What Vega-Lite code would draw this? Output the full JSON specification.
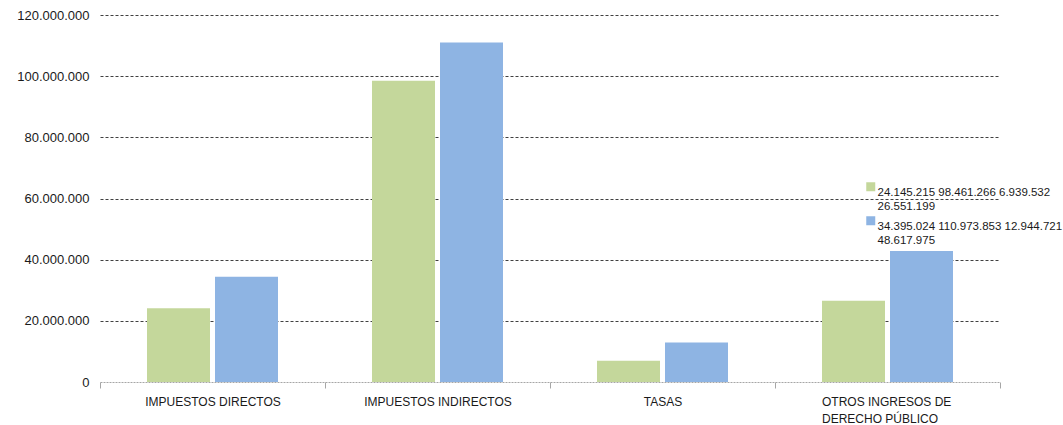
{
  "$schema": "https://vega.github.io/schema/vega-lite/v6.json",
  "width": 900,
  "height": 367,
  "autosize": {"type": "none"},
  "padding": {"left": 100, "top": 15, "right": 63, "bottom": 43},
  "background": "white",
  "config": {
    "view": {"stroke": null},
    "font": "Liberation Sans",
    "locale": {"number": {"decimal": ",", "thousands": ".", "grouping": [3], "currency": ["", " €"]}},
    "style": {"guide-label": {"lineHeight": 14}}
  },
  "data": {
    "values": [
      {"categoria": "IMPUESTOS DIRECTOS", "serie": "24.145.215 98.461.266 6.939.532 26.551.199", "valor": 24145215},
      {"categoria": "IMPUESTOS DIRECTOS", "serie": "34.395.024 110.973.853 12.944.721 48.617.975", "valor": 34395024},
      {"categoria": "IMPUESTOS INDIRECTOS", "serie": "24.145.215 98.461.266 6.939.532 26.551.199", "valor": 98461266},
      {"categoria": "IMPUESTOS INDIRECTOS", "serie": "34.395.024 110.973.853 12.944.721 48.617.975", "valor": 110973853},
      {"categoria": "TASAS", "serie": "24.145.215 98.461.266 6.939.532 26.551.199", "valor": 6939532},
      {"categoria": "TASAS", "serie": "34.395.024 110.973.853 12.944.721 48.617.975", "valor": 12944721},
      {"categoria": "OTROS INGRESOS DE DERECHO PÚBLICO", "serie": "24.145.215 98.461.266 6.939.532 26.551.199", "valor": 26551199},
      {"categoria": "OTROS INGRESOS DE DERECHO PÚBLICO", "serie": "34.395.024 110.973.853 12.944.721 48.617.975", "valor": 42840000}
    ]
  },
  "mark": {"type": "bar"},
  "encoding": {
    "x": {
      "field": "categoria",
      "type": "nominal",
      "sort": null,
      "scale": {"paddingInner": 0, "paddingOuter": 0},
      "axis": {
        "title": null,
        "labelAngle": 0,
        "labelFontSize": 12,
        "labelColor": "#1a1a1a",
        "labelLineHeight": 17,
        "labelPadding": 8,
        "labelExpr": "datum.label == 'OTROS INGRESOS DE DERECHO PÚBLICO' ? ['OTROS INGRESOS DE', 'DERECHO PÚBLICO'] : datum.label",
        "labelAlign": {"condition": {"test": "datum.value == 'OTROS INGRESOS DE DERECHO PÚBLICO'", "value": "left"}, "value": "center"},
        "labelOffset": {"condition": {"test": "datum.value == 'OTROS INGRESOS DE DERECHO PÚBLICO'", "value": -66}, "value": 0},
        "labelLimit": 300,
        "tickBand": "extent",
        "tickSize": 6,
        "tickColor": "#a6a6a6",
        "domainColor": "#a6a6a6",
        "domainDash": [2, 1],
        "grid": false
      }
    },
    "xOffset": {
      "field": "serie",
      "type": "nominal",
      "scale": {"paddingInner": 0.0735, "paddingOuter": 0.691}
    },
    "y": {
      "field": "valor",
      "type": "quantitative",
      "scale": {"domain": [0, 120000000], "nice": false},
      "axis": {
        "title": null,
        "values": [0, 20000000, 40000000, 60000000, 80000000, 100000000, 120000000],
        "format": ",d",
        "domain": false,
        "ticks": false,
        "labelPadding": 11,
        "labelFontSize": 13,
        "labelColor": "#1a1a1a",
        "gridDash": [3, 2],
        "gridColor": {"condition": {"test": "datum.value === 0", "value": "transparent"}, "value": "#404040"},
        "gridWidth": 1
      }
    },
    "color": {
      "field": "serie",
      "type": "nominal",
      "scale": {
        "domain": ["24.145.215 98.461.266 6.939.532 26.551.199", "34.395.024 110.973.853 12.944.721 48.617.975"],
        "range": ["#C4D79B", "#8EB4E3"]
      },
      "legend": {
        "title": null,
        "orient": "none",
        "legendX": 765,
        "legendY": 166,
        "symbolType": "square",
        "symbolSize": 81,
        "symbolStrokeWidth": 0,
        "labelFontSize": 11.5,
        "labelColor": "#1a1a1a",
        "labelOffset": 1,
        "labelBaseline": "top",
        "labelLimit": 300,
        "rowPadding": 2,
        "labelExpr": "[substring(datum.label, 0, lastindexof(datum.label, ' ')), substring(datum.label, lastindexof(datum.label, ' ') + 1)]"
      }
    }
  }
}
